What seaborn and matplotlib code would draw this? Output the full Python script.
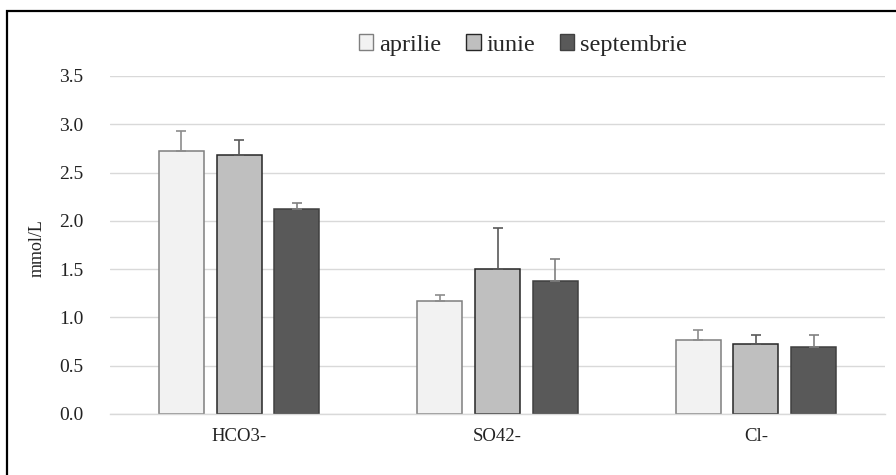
import matplotlib
matplotlib.use("Agg")
import matplotlib.pyplot as plt
import seaborn as sns
import pandas as pd
import numpy as np
from matplotlib.patches import Patch, Rectangle

categories = ["HCO3-", "SO42-", "Cl-"]
months = ["aprilie", "iunie", "septembrie"]
aprilie = [2.72, 1.17, 0.77]
iunie = [2.68, 1.50, 0.73]
septembrie = [2.12, 1.38, 0.69]
err_aprilie = [0.21, 0.06, 0.10]
err_iunie = [0.16, 0.43, 0.09]
err_septembrie = [0.07, 0.22, 0.13]
yticks = [0.0, 0.5, 1.0, 1.5, 2.0, 2.5, 3.0, 3.5]

values = {"aprilie": aprilie, "iunie": iunie, "septembrie": septembrie}
errors = {"aprilie": err_aprilie, "iunie": err_iunie, "septembrie": err_septembrie}

rows = []
for m in months:
    for c, v in zip(categories, values[m]):
        rows.append({"ion": c, "luna": m, "val": v})
df = pd.DataFrame(rows)

sns.set_theme(style="white")
plt.rcParams["font.family"] = ["Liberation Serif", "DejaVu Serif"]

fills = {"aprilie": "#F2F2F2", "iunie": "#BFBFBF", "septembrie": "#595959"}
edges = {"aprilie": "#7F7F7F", "iunie": "#262626", "septembrie": "#404040"}
ecols = {"aprilie": "#8C8C8C", "iunie": "#595959", "septembrie": "#808080"}

fig = plt.figure(figsize=(8.96, 4.75), dpi=100)
ax = fig.add_axes([110/896, 1-414/475, 775/896, 338/475])

sns.barplot(data=df, x="ion", y="val", hue="luna", order=categories,
            hue_order=months, palette=fills, width=0.67, gap=0.22,
            errorbar=None, legend=False, ax=ax, linewidth=1.0)

for cont, m in zip(ax.containers, months):
    xs, hs = [], []
    for bar in cont:
        bar.set_edgecolor(edges[m])
        bar.set_linewidth(1.1)
        xs.append(bar.get_x() + bar.get_width()/2)
        hs.append(bar.get_height())
    ax.errorbar(xs, hs, yerr=[np.zeros(len(hs)), errors[m]], fmt="none",
                ecolor=ecols[m], elinewidth=1.2, capsize=3.5, capthick=1.2, zorder=1)

ax.set_ylim(0, 3.5)
ax.set_xlim(-0.5, 2.5)
ax.set_yticks(yticks)
ax.set_yticklabels([f"{t:.1f}" for t in yticks])
ax.yaxis.grid(True, color="#D9D9D9", linewidth=1.0)
ax.set_axisbelow(True)
for s in ["top", "right", "left"]:
    ax.spines[s].set_visible(False)
ax.spines["bottom"].set_color("#D9D9D9")
ax.spines["bottom"].set_linewidth(1.0)
ax.tick_params(axis="y", length=0, pad=19, labelsize=14, labelcolor="#222222")
ax.tick_params(axis="x", length=0, pad=10, labelsize=13.5, labelcolor="#222222")
ax.set_xlabel("")
ax.set_ylabel("")
fig.text(37/896, 1-248/475, "mmol/L", rotation=90, ha="center", va="center",
         fontsize=13, color="#222222")

handles = [Patch(facecolor=fills[m], edgecolor=edges[m], linewidth=1.0) for m in months]
fig.legend(handles, months, loc="center", bbox_to_anchor=(523/896, 1-45/475), ncol=3,
           frameon=False, fontsize=17.5, handlelength=0.6, handleheight=0.6,
           handletextpad=0.25, columnspacing=1.0)

fig.add_artist(Rectangle((7/896, -0.05), 1.0, 1-11/475+0.05, transform=fig.transFigure,
                         fill=False, edgecolor="black", linewidth=1.6))

fig.savefig("out.png", dpi=100)
